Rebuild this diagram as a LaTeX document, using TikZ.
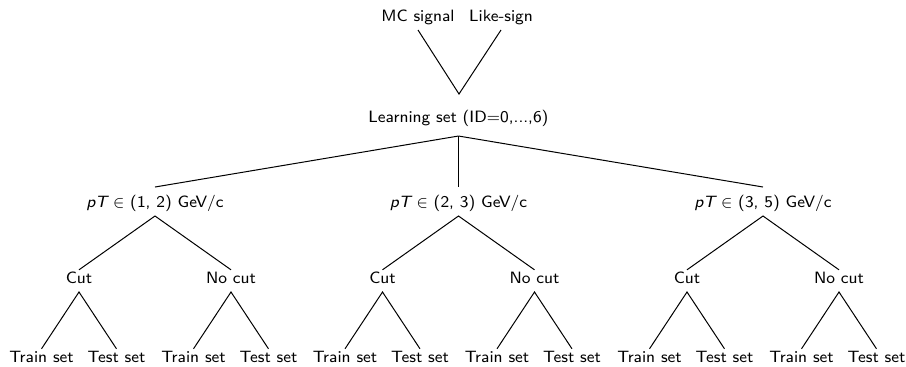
\documentclass[tikz,border=0pt]{standalone}
\begin{document}
\begin{tikzpicture}[x=0.5pt,y=-0.5pt,
  font=\sffamily\fontsize{8.2}{10}\selectfont,
  lab/.style={anchor=base, inner sep=0pt, text height=5.7pt, text depth=3.6pt, outer ysep=0.9pt},
  ptnode/.style={text height=9.1pt},
  edge/.style={line width=0.5pt}]
\useasboundingbox (0,0) rectangle (906,366);
\node[lab] (mc) at (418,21) {MC signal};
\node[lab] (ls) at (501,21) {Like-sign};
\coordinate (join) at (459,94);
\node[lab, text depth=6.1pt] (learn) at (458.5,122) {Learning set (ID$=$0,...,6)};
\draw[edge] (mc.south) -- (join) -- (ls.south);
\foreach \i/\x/\a/\b in {1/155/1/2, 2/458.5/2/3, 3/763/3/5} {
  \node[lab, ptnode] (p\i) at (\x,207) {{\itshape pT} $\in$ (\a, \b) GeV/c};
  \node[lab] (c\i) at (\x-76,283) {Cut};
  \node[lab] (n\i) at (\x+76,283) {No cut};
  \node[lab] (ca\i) at (\x-113.5,362) {Train set};
  \node[lab] (cb\i) at (\x-38.5,362) {Test set};
  \node[lab] (na\i) at (\x+38.5,362) {Train set};
  \node[lab] (nb\i) at (\x+113.5,362) {Test set};
  \draw[edge] (learn.south) -- (p\i.north);
  \draw[edge] (c\i.north) -- (p\i.south) -- (n\i.north);
  \draw[edge] (ca\i.north) -- (c\i.south) -- (cb\i.north);
  \draw[edge] (na\i.north) -- (n\i.south) -- (nb\i.north);
}
\end{tikzpicture}
\end{document}
